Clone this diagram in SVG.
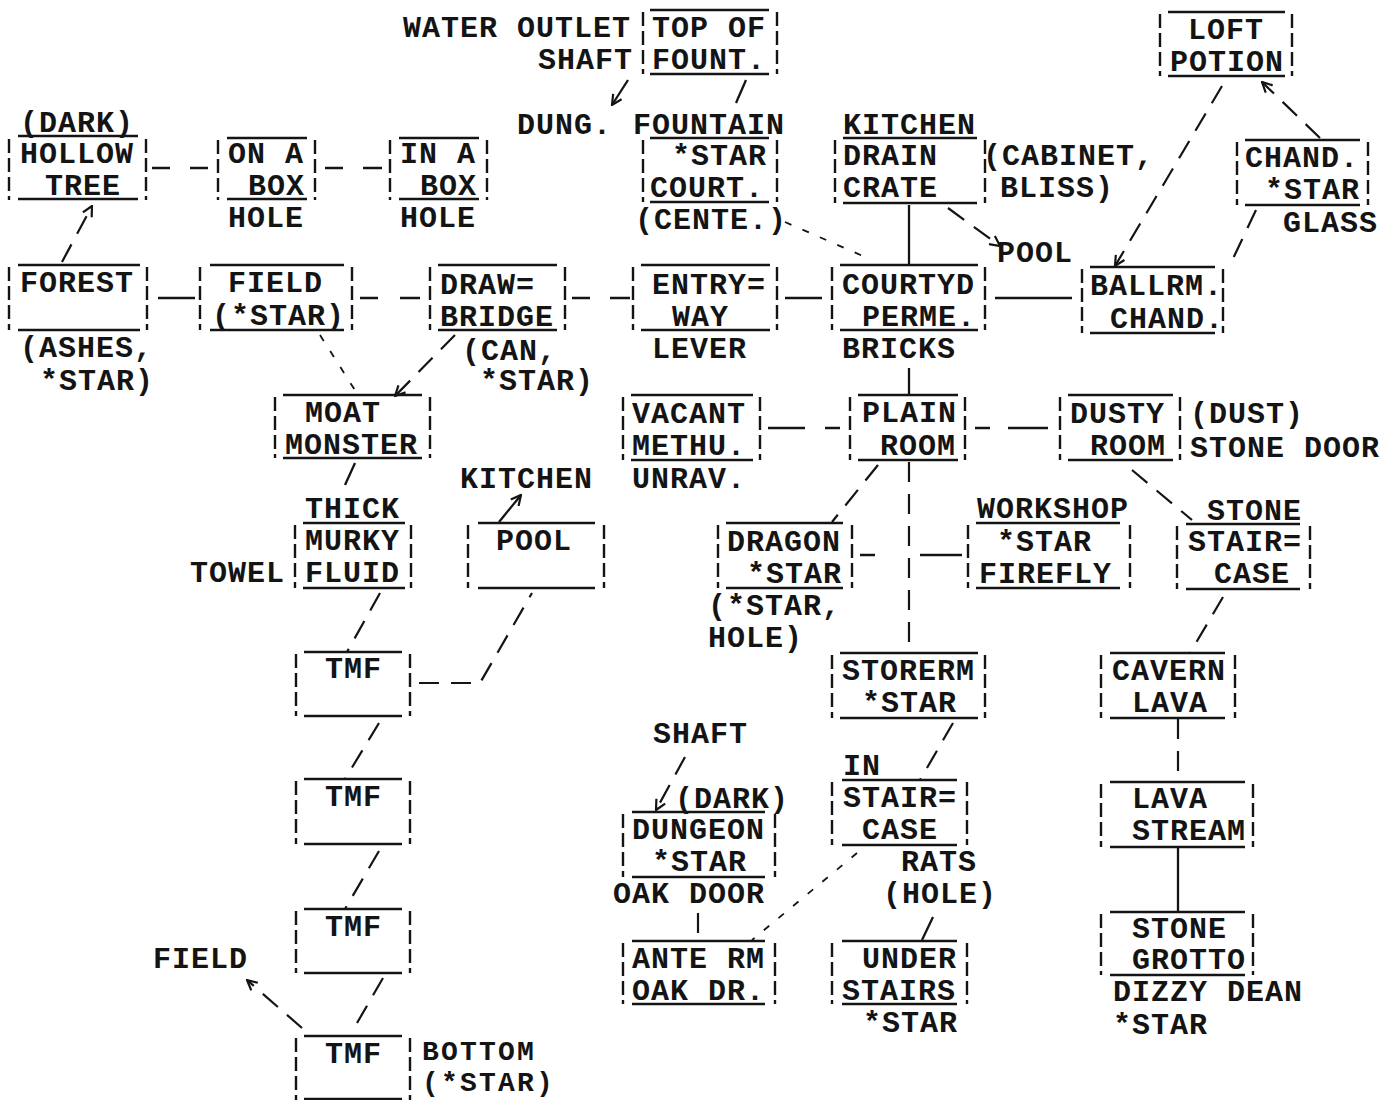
<svg xmlns="http://www.w3.org/2000/svg" width="1397" height="1100" viewBox="0 0 1397 1100">
<style>
text{font-family:"Liberation Mono","DejaVu Sans Mono",monospace;font-size:30px;font-weight:bold;letter-spacing:1px;fill:#141414}
text.sm{font-size:28px;letter-spacing:2.2px}
.h{stroke:#141414;stroke-width:2.5;fill:none}
.v{stroke:#141414;stroke-width:2.4;stroke-dasharray:14 5;fill:none}
.s{stroke:#141414;stroke-width:2.3;fill:none}
.d{stroke:#141414;stroke-width:2.2;stroke-dasharray:20 12;fill:none}
.p{stroke:#141414;stroke-width:1.8;stroke-dasharray:7 12;fill:none}
</style>
<defs>
<marker id="ah" viewBox="0 0 12 12" refX="11" refY="6" markerWidth="12" markerHeight="12" markerUnits="userSpaceOnUse" orient="auto">
<path d="M1,1 L11,6 L1,11" stroke="#141414" stroke-width="2.2" fill="none"/>
</marker>
</defs>
<rect width="1397" height="1100" fill="#ffffff"/>

<g id="connectors">
<path class="s" d="M152,168 H170 M190,168 H208 M325,168 H343 M363,168 H382"/>
<path class="d" d="M62,262 L92,206" marker-end="url(#ah)"/>
<path class="s" d="M628,80 L612,105" marker-end="url(#ah)"/>
<path class="s" d="M746,80 L736,103"/>
<path class="p" d="M785,222 L872,260"/>
<path class="s" d="M909,205 V265"/>
<path class="d" d="M948,208 L1000,246" marker-end="url(#ah)"/>
<path class="d" d="M1222,86 L1115,266" marker-end="url(#ah)"/>
<path class="d" d="M1320,138 L1262,82" marker-end="url(#ah)"/>
<path class="d" d="M1256,210 L1230,265"/>
<path class="s" d="M158,298 H195"/>
<path class="s" d="M360,298 H378 M400,298 H420"/>
<path class="s" d="M572,298 H590 M610,298 H630"/>
<path class="s" d="M785,298 H822"/>
<path class="s" d="M995,298 H1072"/>
<path class="p" d="M320,335 L358,395"/>
<path class="d" d="M455,335 L395,396" marker-end="url(#ah)"/>
<path class="s" d="M909,368 V395"/>
<path class="s" d="M768,428 H805 M825,428 H840"/>
<path class="s" d="M975,428 H990 M1008,428 H1048"/>
<path class="s" d="M355,463 L345,485"/>
<path class="d" d="M878,465 L832,522"/>
<path class="d" d="M909,462 V652"/>
<path class="d" d="M1132,470 L1192,520"/>
<path class="s" d="M860,555 H875 M920,555 H962"/>
<path class="s" d="M499,522 L521,495" marker-end="url(#ah)"/>
<path class="d" d="M380,593 L347,652"/>
<path class="d" d="M419,683 H480 L532,593"/>
<path class="d" d="M1223,597 L1190,653"/>
<path class="d" d="M379,723 L345,779"/>
<path class="d" d="M379,851 L345,909"/>
<path class="d" d="M383,978 L353,1030"/>
<path class="d" d="M302,1028 L247,980" marker-end="url(#ah)"/>
<path class="d" d="M953,723 L920,780"/>
<path class="d" d="M685,757 L656,810" marker-end="url(#ah)"/>
<path class="d" d="M698,913 V941"/>
<path class="p" d="M857,853 L752,940"/>
<path class="s" d="M933,917 L922,940"/>
<path class="d" d="M1178,719 V782"/>
<path class="s" d="M1178,847 V912"/>
</g>

<g id="n-hollow-tree">
<text x="20" y="132">(DARK)</text>
<path class="h" d="M18,136 H138 M18,199 H138"/>
<path class="v" d="M9,139 V200 M146,139 V200"/>
<text x="20" y="163">HOLLOW</text>
<text x="45" y="195">TREE</text>
</g>
<g id="n-on-a-box">
<path class="h" d="M227,138 H307 M227,199 H307"/>
<path class="v" d="M218,140 V200 M315,140 V200"/>
<text x="228" y="163">ON A</text>
<text x="248" y="195">BOX</text>
<text x="228" y="227">HOLE</text>
</g>
<g id="n-in-a-box">
<path class="h" d="M399,138 H479 M399,199 H479"/>
<path class="v" d="M390,140 V200 M487,140 V200"/>
<text x="400" y="163">IN A</text>
<text x="420" y="195">BOX</text>
<text x="400" y="227">HOLE</text>
</g>
<g id="n-top-of-fount">
<text x="403" y="37">WATER OUTLET</text>
<text x="538" y="69">SHAFT</text>
<path class="h" d="M650,10 H769 M650,74 H769"/>
<path class="v" d="M643,12 V74 M777,12 V74"/>
<text x="652" y="37">TOP OF</text>
<text x="652" y="69">FOUNT.</text>
</g>
<g id="n-dung">
<text x="517" y="134">DUNG.</text>
</g>
<g id="n-fountain">
<text x="633" y="134">FOUNTAIN</text>
<path class="h" d="M650,138 H769 M650,202 H769"/>
<path class="v" d="M643,140 V202 M777,140 V202"/>
<text x="672" y="165">*STAR</text>
<text x="650" y="197">COURT.</text>
<text x="635" y="229">(CENTE.)</text>
</g>
<g id="n-drain">
<text x="843" y="134">KITCHEN</text>
<path class="h" d="M843,138 H977 M843,203 H977"/>
<path class="v" d="M835,140 V203 M985,140 V203"/>
<text x="843" y="165">DRAIN</text>
<text x="843" y="197">CRATE</text>
<text x="983" y="165">(CABINET,</text>
<text x="1000" y="197">BLISS)</text>
</g>
<g id="n-pool-label">
<text x="997" y="262">POOL</text>
</g>
<g id="n-loft">
<path class="h" d="M1168,12 H1285 M1168,76 H1285"/>
<path class="v" d="M1160,14 V76 M1292,14 V76"/>
<text x="1188" y="39">LOFT</text>
<text x="1170" y="71">POTION</text>
</g>
<g id="n-chand">
<path class="h" d="M1245,140 H1360 M1245,205 H1360"/>
<path class="v" d="M1237,142 V205 M1368,142 V205"/>
<text x="1245" y="167">CHAND.</text>
<text x="1265" y="199">*STAR</text>
<text x="1283" y="232">GLASS</text>
</g>
<g id="n-forest">
<path class="h" d="M18,265 H140 M18,330 H140"/>
<path class="v" d="M9,267 V330 M147,267 V330"/>
<text x="20" y="292">FOREST</text>
<text x="20" y="357">(ASHES,</text>
<text x="40" y="390">*STAR)</text>
</g>
<g id="n-field">
<path class="h" d="M210,265 H344 M210,330 H344"/>
<path class="v" d="M200,267 V330 M352,267 V330"/>
<text x="228" y="292">FIELD</text>
<text x="212" y="325">(*STAR)</text>
</g>
<g id="n-drawbridge">
<path class="h" d="M438,265 H557 M438,330 H557"/>
<path class="v" d="M430,267 V330 M565,267 V330"/>
<text x="440" y="294">DRAW=</text>
<text x="440" y="326">BRIDGE</text>
<text x="462" y="360">(CAN,</text>
<text x="480" y="390">*STAR)</text>
</g>
<g id="n-entryway">
<path class="h" d="M641,265 H770 M641,330 H770"/>
<path class="v" d="M633,267 V330 M777,267 V330"/>
<text x="652" y="294">ENTRY=</text>
<text x="672" y="326">WAY</text>
<text x="652" y="358">LEVER</text>
</g>
<g id="n-courtyd">
<path class="h" d="M840,265 H978 M840,330 H978"/>
<path class="v" d="M832,267 V330 M985,267 V330"/>
<text x="842" y="294">COURTYD</text>
<text x="862" y="326">PERME.</text>
<text x="842" y="358">BRICKS</text>
</g>
<g id="n-ballrm">
<path class="h" d="M1090,267 H1215 M1090,333 H1215"/>
<path class="v" d="M1082,269 V333 M1223,269 V333"/>
<text x="1090" y="295">BALLRM.</text>
<text x="1110" y="328">CHAND.</text>
</g>
<g id="n-moat">
<path class="h" d="M283,395 H422 M283,458 H422"/>
<path class="v" d="M275,397 V458 M430,397 V458"/>
<text x="305" y="422">MOAT</text>
<text x="285" y="454">MONSTER</text>
</g>
<g id="n-vacant">
<path class="h" d="M631,395 H753 M631,460 H753"/>
<path class="v" d="M623,397 V460 M760,397 V460"/>
<text x="632" y="423">VACANT</text>
<text x="632" y="455">METHU.</text>
<text x="632" y="488">UNRAV.</text>
</g>
<g id="n-plain">
<path class="h" d="M858,395 H958 M858,460 H958"/>
<path class="v" d="M850,397 V460 M965,397 V460"/>
<text x="862" y="422">PLAIN</text>
<text x="880" y="455">ROOM</text>
</g>
<g id="n-dusty">
<path class="h" d="M1068,395 H1173 M1068,460 H1173"/>
<path class="v" d="M1060,397 V460 M1180,397 V460"/>
<text x="1070" y="423">DUSTY</text>
<text x="1090" y="455">ROOM</text>
<text x="1190" y="423">(DUST)</text>
<text x="1190" y="457">STONE DOOR</text>
</g>
<g id="n-murky">
<text x="305" y="518">THICK</text>
<path class="h" d="M303,523 H405 M303,588 H405"/>
<path class="v" d="M295,525 V588 M411,525 V588"/>
<text x="305" y="550">MURKY</text>
<text x="305" y="582">FLUID</text>
<text x="190" y="582">TOWEL</text>
</g>
<g id="n-pool">
<text x="460" y="488">KITCHEN</text>
<path class="h" d="M478,523 H595 M478,588 H595"/>
<path class="v" d="M468,525 V588 M604,525 V588"/>
<text x="496" y="550">POOL</text>
</g>
<g id="n-dragon">
<path class="h" d="M726,523 H843 M726,588 H843"/>
<path class="v" d="M718,525 V588 M852,525 V588"/>
<text x="727" y="551">DRAGON</text>
<text x="747" y="583">*STAR</text>
<text x="708" y="615">(*STAR,</text>
<text x="708" y="647">HOLE)</text>
</g>
<g id="n-workshop">
<text x="977" y="518">WORKSHOP</text>
<path class="h" d="M976,523 H1120 M976,588 H1120"/>
<path class="v" d="M968,525 V588 M1130,525 V588"/>
<text x="997" y="551">*STAR</text>
<text x="979" y="583">FIREFLY</text>
</g>
<g id="n-staircase">
<text x="1207" y="520">STONE</text>
<path class="h" d="M1186,524 H1300 M1186,589 H1300"/>
<path class="v" d="M1177,526 V589 M1310,526 V589"/>
<text x="1188" y="551">STAIR=</text>
<text x="1214" y="583">CASE</text>
</g>
<g id="n-tmf1">
<path class="h" d="M304,652 H402 M304,716 H402"/>
<path class="v" d="M296,654 V716 M410,654 V716"/>
<text x="325" y="678">TMF</text>
</g>
<g id="n-cavern">
<path class="h" d="M1110,653 H1225 M1110,718 H1225"/>
<path class="v" d="M1101,655 V718 M1235,655 V718"/>
<text x="1112" y="680">CAVERN</text>
<text x="1132" y="712">LAVA</text>
</g>
<g id="n-storerm">
<path class="h" d="M840,653 H978 M840,718 H978"/>
<path class="v" d="M832,655 V718 M985,655 V718"/>
<text x="842" y="680">STORERM</text>
<text x="862" y="712">*STAR</text>
</g>
<g id="n-tmf2">
<path class="h" d="M304,779 H402 M304,844 H402"/>
<path class="v" d="M296,781 V844 M410,781 V844"/>
<text x="325" y="806">TMF</text>
</g>
<g id="n-dungeon">
<text x="653" y="743">SHAFT</text>
<text x="675" y="808">(DARK)</text>
<path class="h" d="M632,812 H765 M632,877 H765"/>
<path class="v" d="M623,814 V877 M775,814 V877"/>
<text x="632" y="839">DUNGEON</text>
<text x="652" y="871">*STAR</text>
<text x="613" y="903">OAK DOOR</text>
</g>
<g id="n-in-staircase">
<text x="843" y="775">IN</text>
<path class="h" d="M842,780 H957 M842,845 H957"/>
<path class="v" d="M832,782 V845 M967,782 V845"/>
<text x="843" y="807">STAIR=</text>
<text x="862" y="839">CASE</text>
<text x="901" y="871">RATS</text>
<text x="883" y="903">(HOLE)</text>
</g>
<g id="n-lava-stream">
<path class="h" d="M1110,782 H1245 M1110,847 H1245"/>
<path class="v" d="M1101,784 V847 M1253,784 V847"/>
<text x="1132" y="808">LAVA</text>
<text x="1132" y="840">STREAM</text>
</g>
<g id="n-tmf3">
<path class="h" d="M304,909 H402 M304,973 H402"/>
<path class="v" d="M296,911 V973 M410,911 V973"/>
<text x="325" y="936">TMF</text>
<text x="153" y="968">FIELD</text>
</g>
<g id="n-ante-rm">
<path class="h" d="M632,941 H765 M632,1004 H765"/>
<path class="v" d="M623,943 V1004 M775,943 V1004"/>
<text x="632" y="968">ANTE RM</text>
<text x="632" y="1000">OAK DR.</text>
</g>
<g id="n-under-stairs">
<path class="h" d="M842,941 H957 M842,1004 H957"/>
<path class="v" d="M832,943 V1004 M967,943 V1004"/>
<text x="862" y="968">UNDER</text>
<text x="842" y="1000">STAIRS</text>
<text x="863" y="1032">*STAR</text>
</g>
<g id="n-grotto">
<path class="h" d="M1110,912 H1245 M1110,975 H1245"/>
<path class="v" d="M1101,914 V975 M1253,914 V975"/>
<text x="1132" y="938">STONE</text>
<text x="1132" y="969">GROTTO</text>
<text x="1113" y="1001">DIZZY DEAN</text>
<text x="1113" y="1034">*STAR</text>
</g>
<g id="n-tmf4">
<path class="h" d="M304,1036 H402 M304,1099 H402"/>
<path class="v" d="M296,1038 V1100 M410,1038 V1100"/>
<text x="325" y="1063">TMF</text>
<text class="sm" x="422" y="1060">BOTTOM</text>
<text class="sm" x="422" y="1091">(*STAR)</text>
</g>
</svg>
